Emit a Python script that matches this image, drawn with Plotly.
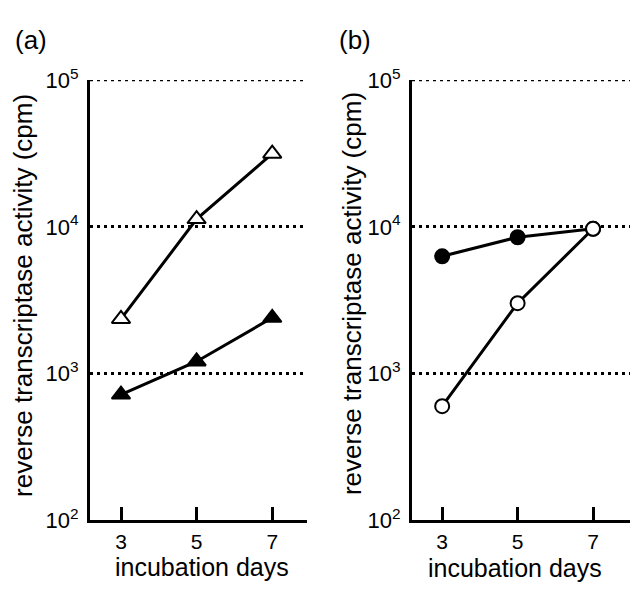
import plotly.graph_objects as go

days = [3, 5, 7]
a_open_tri = [2360, 11300, 31500]
a_filled_tri = [720, 1210, 2400]
b_filled_circ = [6300, 8500, 9700]
b_open_circ = [600, 3020, 9700]

y_tickvals = [100, 1000, 10000, 100000]
y_ticktext = ["10<sup>2</sup>", "10<sup>3</sup>", "10<sup>4</sup>", "10<sup>5</sup>"]
x_tickvals = [3, 5, 7]

FONT = "Liberation Sans, Arial, sans-serif"
W, H = 638, 591
OFF = 8  # page body margin


def px(x):
    return (x - OFF) / W


def py(y):
    return 1 - (y - OFF) / H


fig = go.Figure()


def add(xa, ya, y, symbol, filled):
    tri = "triangle" in symbol
    fig.add_trace(go.Scatter(
        x=days, y=y, xaxis=xa, yaxis=ya, mode="lines+markers",
        line=dict(color="black", width=3),
        marker=dict(symbol=symbol, size=16 if tri else 14,
                    color="black" if filled else "white",
                    line=dict(color="black", width=2)),
        showlegend=False, cliponaxis=False))


add("x", "y", a_open_tri, "triangle-up", False)
add("x", "y", a_filled_tri, "triangle-up", True)
add("x2", "y2", b_filled_circ, "circle", True)
add("x2", "y2", b_open_circ, "circle", False)

ydom = [py(530), py(67)]


def xaxis(dom, rng, anchor):
    return dict(domain=dom, range=rng, anchor=anchor, tickvals=x_tickvals,
                ticks="inside", ticklen=13, tickwidth=3, tickcolor="black",
                showline=True, linewidth=3, linecolor="black", showgrid=False,
                zeroline=False, tickfont=dict(family=FONT, size=21, color="black"))


def yaxis(anchor):
    return dict(domain=ydom, type="log", range=[2, 5], anchor=anchor,
                tickvals=y_tickvals, ticktext=y_ticktext, ticks="",
                showline=True, linewidth=3, linecolor="black",
                showgrid=True, gridcolor="black", gridwidth=2.5, griddash="3px,4px",
                zeroline=False, ticklabelstandoff=4,
                tickfont=dict(family=FONT, size=22, color="black"))


fig.update_layout(
    width=W, height=H, margin=dict(l=0, r=0, t=0, b=0),
    paper_bgcolor="white", plot_bgcolor="white",
    xaxis=xaxis([px(90), px(307)], [2.18, 7.92], "y"),
    yaxis=yaxis("x"),
    xaxis2=xaxis([px(412), px(630)], [2.2, 7.98], "y2"),
    yaxis2=yaxis("x2"),
    font=dict(family=FONT, color="black"),
)

# top gridline (plotly drops the gridline at the range edge)
for xr, yr in [("x domain", "y"), ("x2 domain", "y2")]:
    fig.add_shape(type="line", xref=xr, yref=yr, x0=0, x1=1,
                  y0=y_tickvals[-1], y1=y_tickvals[-1],
                  line=dict(color="black", width=2.5, dash="3px,4px"))

ann = [
    dict(text="(a)", x=31, y=25, size=26, angle=0),
    dict(text="(b)", x=355, y=25, size=26, angle=0),
    dict(text="incubation days", x=202, y=579, size=25, angle=0),
    dict(text="incubation days", x=515, y=580, size=25, angle=0),
    dict(text="reverse transcriptase activity (cpm)", x=23, y=294, size=26, angle=-90),
    dict(text="reverse transcriptase activity (cpm)", x=352, y=292, size=26, angle=-90),
]
for a in ann:
    fig.add_annotation(text=a["text"], x=px(a["x"]), y=py(a["y"]), xref="paper", yref="paper",
                       showarrow=False, textangle=a["angle"], xanchor="center", yanchor="middle",
                       font=dict(family=FONT, size=a["size"], color="black"))

fig.write_html("out.html")
